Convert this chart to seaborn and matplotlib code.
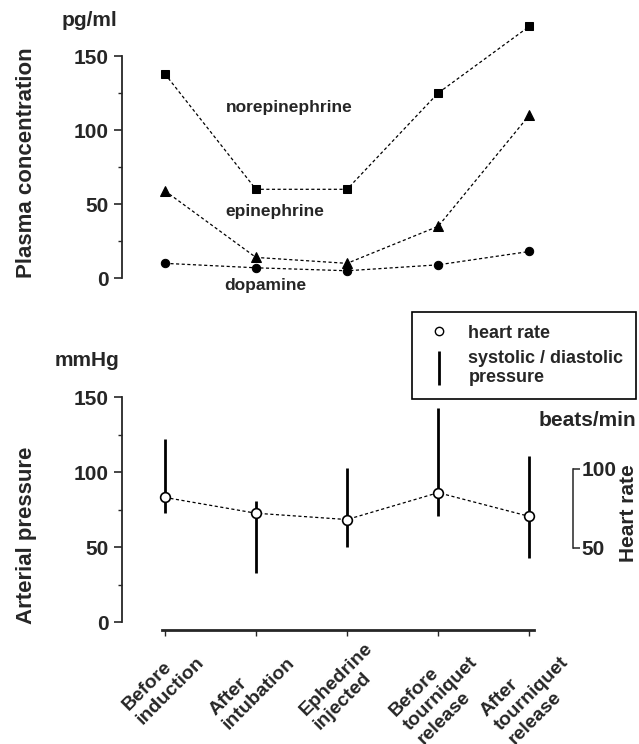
import numpy as np
import pandas as pd
import matplotlib
matplotlib.use("Agg")
import matplotlib.pyplot as plt
import matplotlib.transforms as mtransforms
import seaborn as sns
from matplotlib.lines import Line2D
from matplotlib.ticker import FixedLocator

# ---- data ----
conditions = ["Before\ninduction", "After\nintubation", "Ephedrine\ninjected",
              "Before\ntourniquet\nrelease", "After\ntourniquet\nrelease"]
norepinephrine = [138, 60, 60, 125, 170]
epinephrine = [59, 14, 10, 35, 110]
dopamine = [10, 7, 5, 9, 18]
systolic = [122, 81, 103, 143, 111]
diastolic = [73, 33, 50, 71, 43]
heart_rate = [82, 72, 68, 85, 70]

sns.set_style("ticks")
plt.rcParams['font.family'] = ['Liberation Sans', 'DejaVu Sans']
plt.rcParams['font.weight'] = 'bold'
plt.rcParams['axes.linewidth'] = 1.3

pos = list(range(len(conditions)))
dash = (0, (2.5, 2))

fig = plt.figure(figsize=(6.39, 7.44), dpi=100)
W, H = 639, 744
left = 122 / W
width = (573 - 122) / W
xlim = (-0.47, 4.48)

# ---- top panel ----
ax1 = fig.add_axes([left, 1 - 290 / H, width, (290 - 19) / H])
for vals, mk, ms in [(norepinephrine, 's', 5.5), (epinephrine, '^', 7), (dopamine, 'o', 6)]:
    sns.lineplot(x=pos, y=vals, ax=ax1, color='black', marker=mk, markersize=ms,
                 markeredgecolor='black', linestyle=dash, linewidth=0.9, errorbar=None)
ax1.set_xlim(*xlim)
ax1.set_ylim(-8, 175)
for s in ['top', 'right', 'bottom']:
    ax1.spines[s].set_visible(False)
ax1.spines['left'].set_bounds(0, 150)
ax1.set_xticks([])
ax1.set_yticks([0, 50, 100, 150])
ax1.yaxis.set_minor_locator(FixedLocator([25, 75, 125]))
ax1.tick_params(axis='y', which='major', length=6, width=1.2, labelsize=15)
ax1.tick_params(axis='y', which='minor', length=3, width=1.0)
ax1.text(0.67, 115, "norepinephrine", va='center', ha='left', fontsize=12.5, fontweight='bold')
ax1.text(0.67, 45, "epinephrine", va='center', ha='left', fontsize=12.5, fontweight='bold')
ax1.text(0.65, -5, "dopamine", va='center', ha='left', fontsize=12.5, fontweight='bold')

fig.text(117 / W, 1 - 20 / H, "pg/ml", ha='right', va='center', fontsize=15, fontweight='bold')
fig.text(27 / W, 1 - 163 / H, "Plasma concentration", rotation=90, ha='center', va='center',
         fontsize=16, fontweight='bold')

# ---- bottom panel ----
ax2 = fig.add_axes([left, 1 - 630 / H, width, (630 - 389.5) / H])
ax2.vlines(pos, diastolic, systolic, color='black', linewidth=2.0)
ax2.set_xlim(*xlim)
ax2.set_ylim(-5.33, 155)
for s in ['top', 'right']:
    ax2.spines[s].set_visible(False)
ax2.spines['left'].set_bounds(0, 150)
ax2.spines['bottom'].set_bounds(-0.03, 4.05)
ax2.spines['bottom'].set_linewidth(2.0)
ax2.set_yticks([0, 50, 100, 150])
ax2.yaxis.set_minor_locator(FixedLocator([25, 75, 125]))
ax2.tick_params(axis='y', which='major', length=6, width=1.2, labelsize=15)
ax2.tick_params(axis='y', which='minor', length=3, width=1.0)
ax2.set_xticks(pos)
ax2.set_xticklabels(conditions, rotation=45, ha='right', va='top', rotation_mode='anchor',
                    fontsize=14, fontweight='bold', multialignment='left')
ax2.tick_params(axis='x', length=4, width=1.0, pad=3)
offset = mtransforms.ScaledTranslation(12 / 72, 0 / 72, fig.dpi_scale_trans)
for lbl in ax2.get_xticklabels():
    lbl.set_transform(lbl.get_transform() + offset)

ax3 = ax2.twinx()
sns.lineplot(x=pos, y=heart_rate, ax=ax3, color='black', marker='o', markersize=7,
             markerfacecolor='white', markeredgecolor='black', markeredgewidth=1.2,
             linestyle=dash, linewidth=0.9, errorbar=None)
ax3.set_ylim(-1.9, 150.3)
for s in ['top', 'left', 'bottom']:
    ax3.spines[s].set_visible(False)
ax3.spines['right'].set_bounds(50, 100)
ax3.spines['right'].set_linewidth(1.1)
ax3.set_yticks([50, 100])
ax3.tick_params(axis='y', length=5, width=1.1, labelsize=15, pad=1)
ax3.set_ylabel("")

fig.text(119 / W, 1 - 361 / H, "mmHg", ha='right', va='center', fontsize=15, fontweight='bold')
fig.text(27 / W, 1 - 535 / H, "Arterial pressure", rotation=90, ha='center', va='center',
         fontsize=16, fontweight='bold')
fig.text(636 / W, 1 - 420 / H, "beats/min", ha='right', va='center', fontsize=15, fontweight='bold')
fig.text(628 / W, 1 - 513 / H, "Heart rate", rotation=90, ha='center', va='center',
         fontsize=15, fontweight='bold')

handles = [
    Line2D([], [], marker='o', markerfacecolor='white', markeredgecolor='black',
           markersize=6, linestyle='none'),
    Line2D([], [], marker='|', markersize=24, markeredgewidth=2, color='black', linestyle='none'),
]
leg = fig.legend(handles, ["heart rate", "systolic / diastolic\npressure"],
                 loc='upper right', bbox_to_anchor=(636 / W, 1 - 312 / H),
                 bbox_transform=fig.transFigure, frameon=True, fancybox=False,
                 edgecolor='black', framealpha=1, fontsize=13, handlelength=1.6,
                 handletextpad=0.8, borderpad=0.7, labelspacing=0.45, borderaxespad=0)
leg.get_frame().set_linewidth(1.2)
for t in leg.get_texts():
    t.set_fontweight('bold')

fig.savefig("out.png", dpi=100)
